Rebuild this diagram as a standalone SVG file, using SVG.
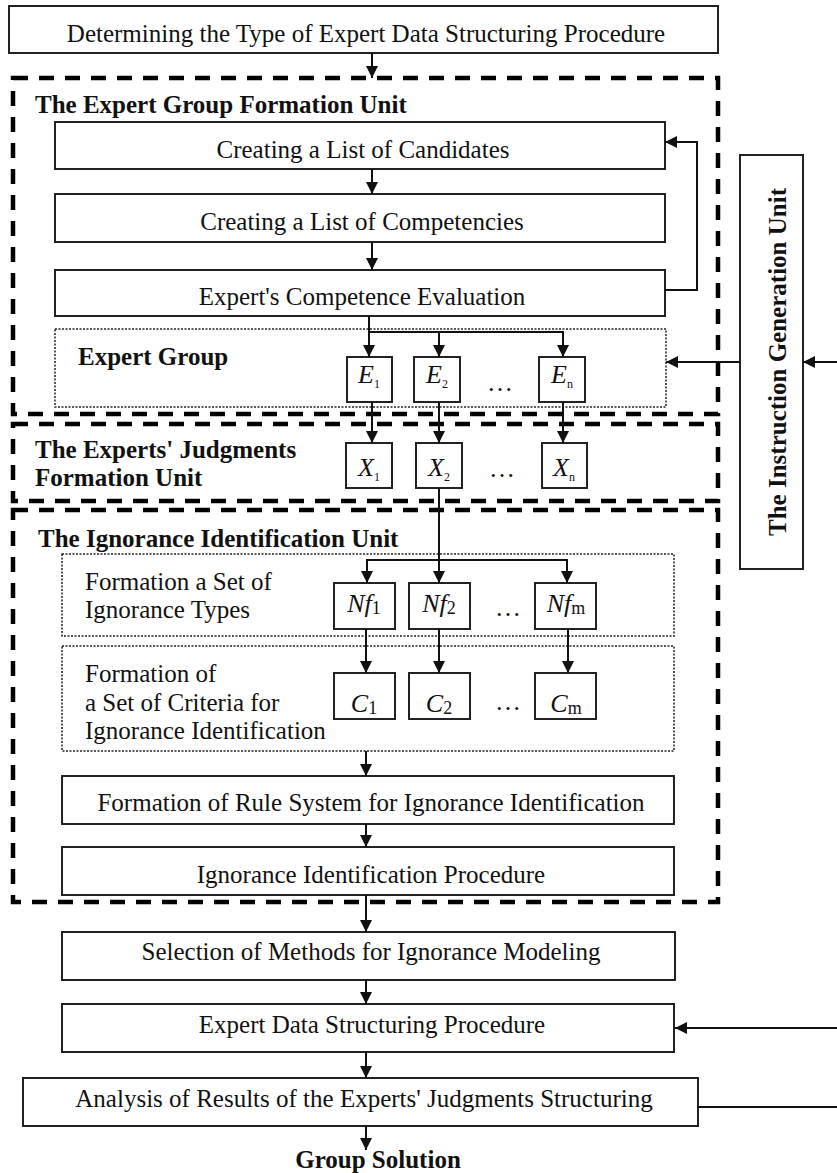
<svg xmlns="http://www.w3.org/2000/svg" width="837" height="1173" viewBox="0 0 837 1173">
<style>
text{font-family:"Liberation Serif","Times New Roman",serif;fill:#111;}
.t{font-size:25px;text-anchor:middle;}
.b{font-size:25px;font-weight:bold;}
.l{font-size:25px;}
.box{fill:#fff;stroke:#222;stroke-width:2;}
.dash{fill:none;stroke:#000;stroke-width:4.5;stroke-dasharray:15 11;}
.dot{fill:none;stroke:#222;stroke-width:1.5;stroke-dasharray:2 1.5;}
.c{fill:none;stroke:#111;stroke-width:2;marker-end:url(#ah);}
.n{fill:none;stroke:#111;stroke-width:2;}
.v{font-size:26px;font-style:italic;text-anchor:middle;}
.s{font-size:12px;font-style:normal;}
.s2{font-size:18px;font-style:normal;}
.e{font-size:26px;text-anchor:middle;}
</style>
<defs>
<marker id="ah" viewBox="0 0 12 12" refX="12" refY="6" markerWidth="12" markerHeight="12" markerUnits="userSpaceOnUse" orient="auto">
<path d="M0,0 L12,6 L0,12 z" fill="#111"/>
</marker>
</defs>
<rect width="837" height="1173" fill="#fff"/>

<g id="units">
<rect class="dash" x="13" y="78" width="705" height="336"/>
<rect class="dash" x="13" y="424" width="705" height="77"/>
<rect class="dash" x="13" y="510" width="705" height="392"/>
<text class="b" x="35" y="113">The Expert Group Formation Unit</text>
<text class="b" x="35" y="458">The Experts' Judgments</text>
<text class="b" x="35" y="486">Formation Unit</text>
<text class="b" x="38" y="547">The Ignorance Identification Unit</text>
</g>

<g id="n-determine">
<rect class="box" x="9" y="6" width="709" height="47"/>
<text class="t" x="366" y="42">Determining the Type of Expert Data Structuring Procedure</text>
</g>
<g id="n-candidates">
<rect class="box" x="55" y="122" width="610" height="47"/>
<text class="t" x="363" y="158">Creating a List of Candidates</text>
</g>
<g id="n-competencies">
<rect class="box" x="55" y="194" width="610" height="48"/>
<text class="t" x="362" y="230">Creating a List of Competencies</text>
</g>
<g id="n-evaluation">
<rect class="box" x="55" y="270" width="610" height="46"/>
<text class="t" x="362" y="305">Expert's Competence Evaluation</text>
</g>

<g id="n-expertgroup">
<rect class="dot" x="55" y="329" width="611" height="78"/>
<text class="b" x="78" y="365">Expert Group</text>
<rect class="box" x="347" y="357" width="45" height="45"/>
<text class="v" x="369" y="383">E<tspan class="s" dy="5">1</tspan></text>
<rect class="box" x="414" y="357" width="46" height="45"/>
<text class="v" x="437" y="383">E<tspan class="s" dy="5">2</tspan></text>
<text class="e" x="500" y="391">…</text>
<rect class="box" x="539" y="357" width="46" height="45"/>
<text class="v" x="562" y="383">E<tspan class="s" dy="5" font-style="italic">n</tspan></text>
</g>

<g id="n-judgments">
<rect class="box" x="346" y="443" width="46" height="45"/>
<text class="v" x="369" y="476">X<tspan class="s" dy="5">1</tspan></text>
<rect class="box" x="416" y="443" width="46" height="45"/>
<text class="v" x="439" y="476">X<tspan class="s" dy="5">2</tspan></text>
<text class="e" x="502" y="477">…</text>
<rect class="box" x="542" y="443" width="45" height="45"/>
<text class="v" x="564" y="476">X<tspan class="s" dy="5" font-style="italic">n</tspan></text>
</g>

<g id="n-ignorance-types">
<rect class="dot" x="62" y="554" width="612" height="82"/>
<text class="l" x="85" y="590">Formation a Set of</text>
<text class="l" x="85" y="618">Ignorance Types</text>
<rect class="box" x="334" y="583" width="61" height="46"/>
<text class="v" x="364" y="612">Nf<tspan class="s2" dy="2">1</tspan></text>
<rect class="box" x="409" y="583" width="61" height="46"/>
<text class="v" x="439" y="612">Nf<tspan class="s2" dy="2">2</tspan></text>
<text class="e" x="508" y="616">…</text>
<rect class="box" x="535" y="583" width="61" height="46"/>
<text class="v" x="566" y="612">Nf<tspan class="s2" dy="2" font-style="italic">m</tspan></text>
</g>

<g id="n-criteria">
<rect class="dot" x="62" y="646" width="612" height="105"/>
<text class="l" x="85" y="682">Formation of</text>
<text class="l" x="85" y="711">a Set of Criteria for</text>
<text class="l" x="85" y="739">Ignorance Identification</text>
<rect class="box" x="334" y="673" width="61" height="46"/>
<text class="v" x="364" y="712">C<tspan class="s2" dy="2">1</tspan></text>
<rect class="box" x="409" y="673" width="61" height="46"/>
<text class="v" x="439" y="712">C<tspan class="s2" dy="2">2</tspan></text>
<text class="e" x="508" y="710">…</text>
<rect class="box" x="535" y="673" width="61" height="46"/>
<text class="v" x="566" y="712">C<tspan class="s2" dy="2" font-style="italic">m</tspan></text>
</g>

<g id="n-rules">
<rect class="box" x="62" y="776" width="612" height="48"/>
<text class="t" x="371" y="811">Formation of Rule System for Ignorance Identification</text>
</g>
<g id="n-procedure">
<rect class="box" x="62" y="847" width="612" height="48"/>
<text class="t" x="371" y="883">Ignorance Identification Procedure</text>
</g>
<g id="n-selection">
<rect class="box" x="62" y="932" width="613" height="48"/>
<text class="t" x="371" y="960">Selection of Methods for Ignorance Modeling</text>
</g>
<g id="n-structuring">
<rect class="box" x="62" y="1004" width="612" height="48"/>
<text class="t" x="372" y="1033">Expert Data Structuring Procedure</text>
</g>
<g id="n-analysis">
<rect class="box" x="23" y="1078" width="675" height="48"/>
<text class="t" x="364" y="1107">Analysis of Results of the Experts' Judgments Structuring</text>
</g>
<g id="n-solution">
<text class="b" x="378" y="1168" text-anchor="middle">Group Solution</text>
</g>

<g id="n-instruction">
<rect class="box" x="740" y="155" width="63" height="414"/>
<text class="b" x="0" y="0" text-anchor="middle" transform="translate(786,362) rotate(-90)">The Instruction Generation Unit</text>
</g>

<g id="connectors">
<path class="c" d="M372,53 V78"/>
<path class="c" d="M372,169 V194"/>
<path class="c" d="M372,242 V270"/>
<path class="c" d="M665,290 H697 V142 H665"/>
<path class="c" d="M369,316 V357"/>
<path class="c" d="M369,332 H439 V357"/>
<path class="c" d="M439,332 H563 V357"/>
<path class="c" d="M372,402 V443"/>
<path class="c" d="M439,402 V443"/>
<path class="c" d="M563,402 V443"/>
<path class="c" d="M439,488 V583"/>
<path class="c" d="M439,560 H367 V583"/>
<path class="c" d="M439,560 H567 V583"/>
<path class="c" d="M366,629 V673"/>
<path class="c" d="M439,629 V673"/>
<path class="c" d="M568,629 V673"/>
<path class="c" d="M366,751 V776"/>
<path class="c" d="M366,824 V847"/>
<path class="c" d="M366,895 V932"/>
<path class="c" d="M366,980 V1004"/>
<path class="c" d="M366,1052 V1078"/>
<path class="c" d="M366,1126 V1150"/>
<path class="c" d="M740,362 H666"/>
<path class="c" d="M837,362 H803"/>
<path class="c" d="M837,1028 H675"/>
<path class="n" d="M698,1107 H837"/>
</g>
</svg>
